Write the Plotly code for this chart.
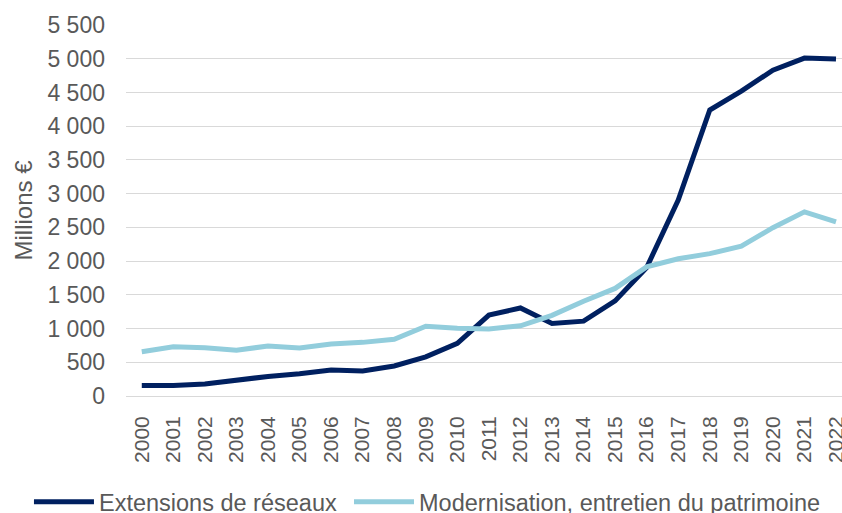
import plotly.graph_objects as go

years = [str(y) for y in range(2000, 2023)]
extensions = [155, 155, 178, 235, 290, 330, 385, 372, 445, 580, 780, 1200, 1305, 1075,
              1110, 1410, 1905, 2905, 4240, 4520, 4830, 5010, 4995]
modernisation = [655, 730, 715, 680, 740, 712, 770, 795, 840, 1035, 1005, 995, 1040, 1195,
                 1405, 1595, 1915, 2035, 2110, 2220, 2495, 2730, 2580]
y_ticks = [0, 500, 1000, 1500, 2000, 2500, 3000, 3500, 4000, 4500, 5000, 5500]
y_labels = ["0", "500", "1 000", "1 500", "2 000", "2 500", "3 000", "3 500",
            "4 000", "4 500", "5 000", "5 500"]

grey = "#595959"
font_family = "Liberation Sans, Arial, sans-serif"

fig = go.Figure()
fig.add_trace(go.Scatter(x=years, y=extensions, mode="lines",
                         name="Extensions de réseaux", legend="legend",
                         line=dict(color="#002060", width=5)))
fig.add_trace(go.Scatter(x=years, y=modernisation, mode="lines",
                         name="Modernisation, entretien du patrimoine", legend="legend2",
                         line=dict(color="#92CDDC", width=5)))

legend_common = dict(orientation="h", xanchor="left", xref="container", yref="container",
                     y=0.0215, yanchor="middle", font=dict(size=23.5, color=grey),
                     bgcolor="rgba(0,0,0,0)", itemwidth=60)

fig.update_layout(
    width=842, height=513,
    margin=dict(l=126, r=0, t=25, b=117),
    paper_bgcolor="white", plot_bgcolor="white",
    font=dict(family=font_family, color=grey, size=22),
    showlegend=True,
    legend=dict(x=0.0344, **legend_common),
    legend2=dict(x=0.4145, **legend_common),
    xaxis=dict(type="category", range=[-0.5, 22.19], tickangle=-90,
               tickfont=dict(size=21, color=grey), showgrid=False, ticks="",
               showline=False, ticklabelstandoff=15, fixedrange=True, automargin=False),
    yaxis=dict(range=[0, 5500], tickvals=y_ticks, ticktext=y_labels,
               tickfont=dict(size=23, color=grey), showgrid=True, gridcolor="#D9D9D9",
               gridwidth=1.3, zeroline=True, zerolinecolor="#D9D9D9", zerolinewidth=1.3,
               ticks="", ticklabelstandoff=20, showline=False, automargin=False,
               title=dict(text="Millions €", font=dict(size=24, color=grey), standoff=8)),
)

fig.write_html("out.html", config={"displayModeBar": False},
               post_script="document.body.style.margin='0';document.body.style.overflow='hidden';")
